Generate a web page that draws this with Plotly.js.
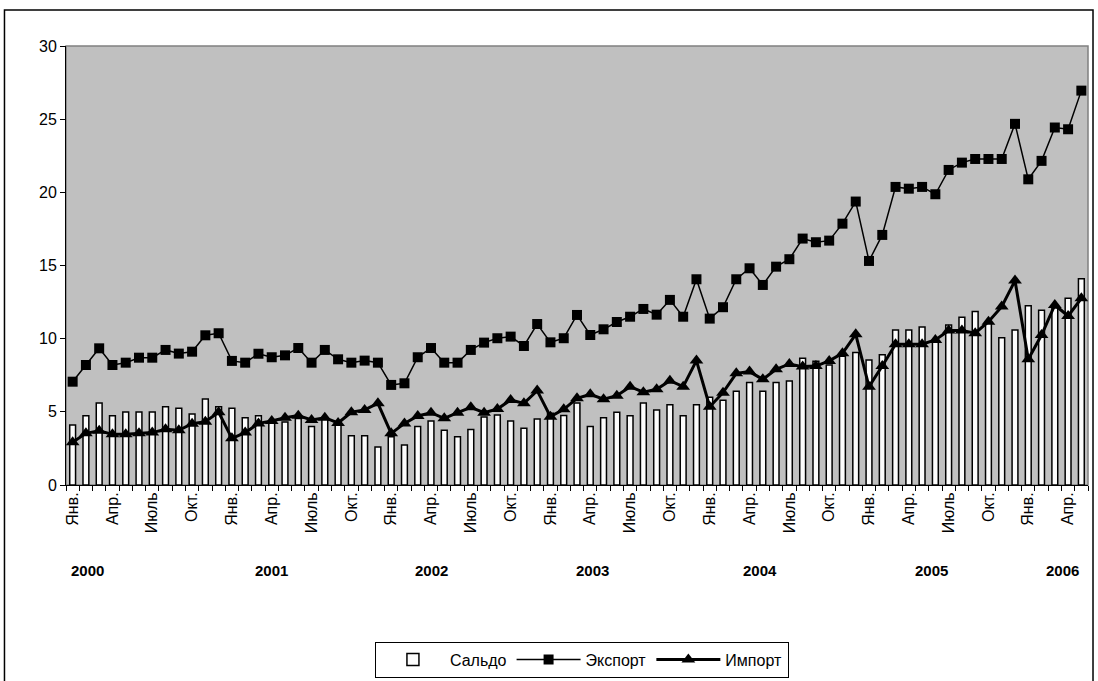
<!DOCTYPE html>
<html>
<head>
<meta charset="utf-8">
<script src="https://cdn.plot.ly/plotly-3.0.1.min.js"></script>
<style>html,body{margin:0;padding:0;background:#fff}#chart{width:1098px;height:681px}</style>
</head>
<body>
<div id="chart"></div>
<script>
// Months Jan 2000 .. May 2006
const monthNames = ["Янв.","Фев.","Март","Апр.","Май","Июнь","Июль","Авг.","Сент.","Окт.","Нояб.","Дек."];
const years = ["2000","2001","2002","2003","2004","2005","2006"];
const monthsInLastYear = 5;

const saldo = [
  4.1, 4.74, 5.6, 4.74, 4.99, 4.99, 4.99, 5.35, 5.24, 4.85, 5.88, 5.35, 5.24,
  4.6, 4.74, 4.35, 4.3, 4.55, 4.0, 4.5, 4.15, 3.37, 3.37, 2.6, 3.3, 2.73,
  3.99, 4.37, 3.74, 3.3, 3.8, 4.65, 4.78, 4.37, 3.87, 4.51, 4.9, 4.75, 5.6,
  3.99, 4.6, 4.97, 4.74, 5.6, 5.13, 5.49, 4.74, 5.49, 6.0, 5.8, 6.4, 7.0,
  6.4, 7.0, 7.11, 8.66, 8.45, 8.2, 8.8, 9.05, 8.55, 8.9, 10.6, 10.6, 10.8,
  9.85, 10.94, 11.46, 11.85, 11.1, 10.07, 10.6, 12.25, 11.95, 12.1, 12.76, 14.1
];
const exportVals = [
  7.06, 8.2, 9.34, 8.2, 8.36, 8.7, 8.7, 9.23, 8.98, 9.11, 10.23, 10.37, 8.48,
  8.36, 8.97, 8.73, 8.86, 9.36, 8.36, 9.23, 8.59, 8.36, 8.5, 8.36, 6.84, 6.95,
  8.73, 9.36, 8.36, 8.36, 9.23, 9.73, 10.03, 10.14, 9.5, 11.0, 9.75, 10.03, 11.62,
  10.25, 10.64, 11.14, 11.5, 12.03, 11.64, 12.65, 11.5, 14.06, 11.37, 12.15, 14.06, 14.81,
  13.67, 14.92, 15.43, 16.84, 16.59, 16.7, 17.86, 19.37, 15.31, 17.09, 20.37, 20.25, 20.37,
  19.87, 21.53, 22.03, 22.28, 22.28, 22.28, 24.68, 20.89, 22.15, 24.43, 24.31, 26.95
];
const importVals = [
  2.92, 3.53, 3.71, 3.46, 3.46, 3.53, 3.58, 3.81, 3.74, 4.19, 4.33, 4.97, 3.19,
  3.58, 4.21, 4.37, 4.6, 4.74, 4.44, 4.6, 4.24, 4.97, 5.13, 5.58, 3.53, 4.21,
  4.72, 4.94, 4.56, 4.94, 5.31, 4.94, 5.19, 5.81, 5.58, 6.45, 4.67, 5.17, 5.92,
  6.2, 5.86, 6.1, 6.72, 6.34, 6.54, 7.13, 6.72, 8.5, 5.35, 6.31, 7.63, 7.75,
  7.22, 7.91, 8.27, 8.09, 8.13, 8.48, 9.0, 10.3, 6.72, 8.13, 9.62, 9.62, 9.62,
  9.91, 10.55, 10.55, 10.37, 11.16, 12.19, 13.97, 8.59, 10.25, 12.3, 11.55, 12.76
];
// year label positions (category index of label centre)
const yearLabelPos = [1.1, 15.0, 27.0, 39.2, 51.8, 64.7, 74.6];

// build categories
const monthLabels = [];
for (let y = 0; y < years.length; y++) {
  const n = (y === years.length - 1) ? monthsInLastYear : 12;
  for (let m = 0; m < n; m++) monthLabels.push(monthNames[m]);
}
const xIdx = monthLabels.map((_, i) => i);
const tickIdx = xIdx.filter(i => i % 3 === 0);
const tickText = tickIdx.map(i => monthLabels[i]);

const FONT = "Liberation Sans, Arial, sans-serif";

const traces = [
  {
    type: "bar", name: "Сальдо", x: xIdx, y: saldo, width: 0.44,
    marker: { color: "#FCFCFC", line: { color: "#000", width: 1.5 } }
  },
  {
    type: "scatter", mode: "lines+markers", name: "Экспорт", x: xIdx, y: exportVals,
    line: { color: "#000", width: 1.5 },
    marker: { symbol: "square", size: 10, color: "#000" }
  },
  {
    type: "scatter", mode: "lines+markers", name: "Импорт", x: xIdx, y: importVals,
    line: { color: "#000", width: 3 },
    marker: { symbol: "triangle-up", size: 12, color: "#000" }
  }
];

const annotations = years.map((yr, i) => ({
  x: yearLabelPos[i], xref: "x", y: -0.194, yref: "paper",
  text: "<b>" + yr + "</b>", showarrow: false,
  font: { family: FONT, size: 15, color: "#000" }, xanchor: "center", yanchor: "middle"
}));

const layout = {
  width: 1098, height: 681,
  margin: { l: 66, r: 10, t: 46, b: 196 },
  paper_bgcolor: "#fff",
  plot_bgcolor: "rgba(0,0,0,0)",
  font: { family: FONT, size: 16, color: "#000" },
  xaxis: {
    automargin: false,
    range: [-0.5, xIdx.length - 0.5],
    tickmode: "array", tickvals: tickIdx, ticktext: tickText,
    tickangle: -90, ticks: "", showgrid: false, zeroline: false,
    showline: true, linecolor: "#000", linewidth: 1,
    tickfont: { family: FONT, size: 16 },
    minor: { ticks: "outside", ticklen: 5, tickcolor: "#000", tick0: -0.5, dtick: 1, showgrid: false }
  },
  yaxis: {
    automargin: false,
    range: [0, 30], dtick: 5, ticks: "outside", ticklen: 5, tickcolor: "#000",
    showline: true, linecolor: "#000", linewidth: 1, showgrid: false, zeroline: false,
    tickfont: { family: FONT, size: 16 }
  },
  showlegend: true,
  legend: {
    orientation: "h", xref: "container", yref: "container",
    x: 0.53, xanchor: "center", y: 0.058, yanchor: "top",
    bordercolor: "#000", borderwidth: 1, bgcolor: "#fff", itemwidth: 64,
    font: { family: FONT, size: 16 }, traceorder: "normal"
  },
  annotations: annotations,
  shapes: [
    { type: "rect", xref: "paper", yref: "paper", x0: 0, x1: 1, y0: 0, y1: 1,
      fillcolor: "#C0C0C0", line: { color: "#808080", width: 1.5 }, layer: "below" },
    { type: "rect", xref: "paper", yref: "paper", x0: -0.0602, x1: 1.0049, y0: -0.5, y1: 1.082,
      fillcolor: "rgba(0,0,0,0)", line: { color: "#000", width: 1.5 }, layer: "below" }
  ]
};

Plotly.newPlot("chart", traces, layout, { displayModeBar: false, staticPlot: true });
</script>
</body>
</html>
